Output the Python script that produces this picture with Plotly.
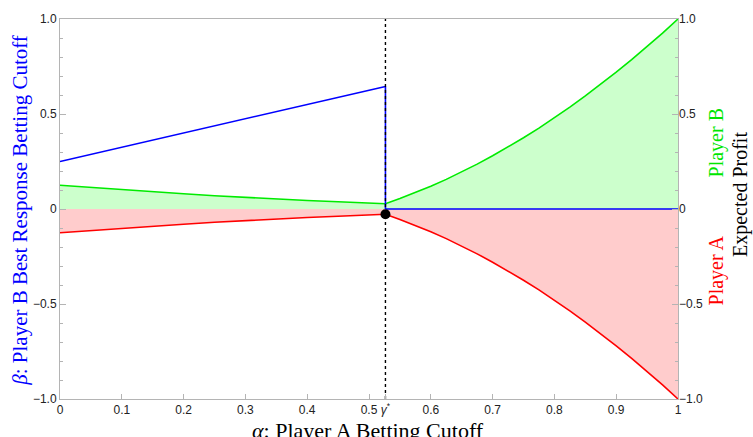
import plotly.graph_objects as go

# ---- data ----
gamma_star = 0.5266
alpha_left = [0, 0.05, 0.1, 0.15, 0.2, 0.25, 0.3, 0.35, 0.4, 0.45, 0.5, 0.5266]
profit_b_left = [0.125, 0.113, 0.101, 0.090, 0.080, 0.070, 0.061, 0.053, 0.045, 0.038, 0.031, 0.028]
profit_a_left = [-0.125, -0.113, -0.101, -0.090, -0.080, -0.070, -0.061, -0.053, -0.045, -0.038, -0.031, -0.028]
alpha_right = [0.5266, 0.55, 0.575, 0.6, 0.625, 0.65, 0.675, 0.7, 0.725, 0.75, 0.775, 0.8,
               0.825, 0.85, 0.875, 0.9, 0.925, 0.95, 0.975, 1.0]
profit_b_right = [0.028, 0.055, 0.086, 0.120, 0.156, 0.195, 0.236, 0.280, 0.326, 0.375, 0.426, 0.480,
                  0.536, 0.595, 0.656, 0.720, 0.786, 0.855, 0.926, 1.0]
profit_a_right = [-0.028, -0.055, -0.086, -0.120, -0.156, -0.195, -0.236, -0.280, -0.326, -0.375, -0.426, -0.480,
                  -0.536, -0.595, -0.656, -0.720, -0.786, -0.855, -0.926, -1.0]
beta_alpha_left = [0, 0.5266]
beta_left = [0.25, 0.645]
beta_alpha_right = [0.5266, 1.0]
beta_right = [0, 0]
eq_point = (0.5266, -0.028)

x_tickvals = [0, 0.1, 0.2, 0.3, 0.4, 0.5, gamma_star, 0.6, 0.7, 0.8, 0.9, 1.0]
x_ticktext = ["0", "0.1", "0.2", "0.3", "0.4", "0.5", "<i>γ</i><sup>*</sup>", "0.6", "0.7", "0.8", "0.9", "1"]
y_tickvals = [1.0, 0.5, 0, -0.5, -1.0]
y_ticktext = ["1.0", "0.5", "0", "−0.5", "−1.0"]
y_minor = [-0.9, -0.8, -0.7, -0.6, -0.4, -0.3, -0.2, -0.1, 0.1, 0.2, 0.3, 0.4, 0.6, 0.7, 0.8, 0.9]

GREEN = "rgb(0,235,0)"
RED = "rgb(255,0,0)"
BLUE = "rgb(0,0,255)"
GFILL = "rgb(204,255,204)"
RFILL = "rgb(255,204,204)"
FRAME = "rgb(180,180,180)"

alpha_all = alpha_left + alpha_right[1:]
b_all = profit_b_left + profit_b_right[1:]
a_all = profit_a_left + profit_a_right[1:]

fig = go.Figure()
# fills
fig.add_trace(go.Scatter(x=alpha_all, y=b_all, fill="tozeroy", fillcolor=GFILL,
                         line=dict(width=0), mode="lines", hoverinfo="skip", showlegend=False))
fig.add_trace(go.Scatter(x=alpha_all, y=a_all, fill="tozeroy", fillcolor=RFILL,
                         line=dict(width=0), mode="lines", hoverinfo="skip", showlegend=False))
# curves
fig.add_trace(go.Scatter(x=alpha_all, y=b_all, mode="lines", line=dict(color=GREEN, width=1.6), showlegend=False))
fig.add_trace(go.Scatter(x=alpha_all, y=a_all, mode="lines", line=dict(color=RED, width=1.6), showlegend=False))
# best response
fig.add_trace(go.Scatter(x=beta_alpha_left, y=beta_left, mode="lines", line=dict(color=BLUE, width=1.6), showlegend=False))
fig.add_trace(go.Scatter(x=beta_alpha_right, y=beta_right, mode="lines", line=dict(color=BLUE, width=1.6), showlegend=False))
fig.add_trace(go.Scatter(x=[gamma_star, gamma_star], y=[beta_left[-1], 0], mode="lines",
                         line=dict(color=BLUE, width=1.6), showlegend=False))
# gamma* dashed line
fig.add_trace(go.Scatter(x=[gamma_star, gamma_star], y=[-1, 1], mode="lines",
                         line=dict(color="black", width=1.4, dash="3px,3px"), showlegend=False))
# equilibrium dot
fig.add_trace(go.Scatter(x=[eq_point[0]], y=[eq_point[1]], mode="markers",
                         marker=dict(color="black", size=10), showlegend=False))
# dummy for right axis
fig.add_trace(go.Scatter(x=[0.5], y=[0], yaxis="y2", mode="markers", marker=dict(opacity=0),
                         hoverinfo="skip", showlegend=False))

tickfont = dict(family="Liberation Sans, Arial, sans-serif", size=12, color="#222")

fig.update_layout(
    width=753, height=437,
    margin=dict(l=60, r=75, t=17, b=38),
    paper_bgcolor="white", plot_bgcolor="white",
    xaxis=dict(range=[0, 1], tickvals=x_tickvals, ticktext=x_ticktext, ticks="inside", ticklen=5,
               tickcolor=FRAME, showline=True, linecolor=FRAME, linewidth=1, mirror=True,
               showgrid=False, zeroline=False, tickfont=tickfont),
    yaxis=dict(range=[-1, 1], tickvals=y_tickvals, ticktext=y_ticktext, ticks="inside", ticklen=6,
               tickcolor=FRAME, showline=True, linecolor=FRAME, linewidth=1, mirror=True,
               showgrid=False, zeroline=True, zerolinecolor=FRAME, zerolinewidth=1, tickfont=tickfont,
               minor=dict(tickvals=y_minor, ticks="inside", ticklen=3, tickcolor=FRAME)),
    yaxis2=dict(range=[-1, 1], overlaying="y", side="right", tickvals=y_tickvals, ticktext=y_ticktext,
                ticks="inside", ticklen=6, tickcolor=FRAME, showgrid=False, zeroline=False,
                showline=False, tickfont=tickfont,
                minor=dict(tickvals=y_minor, ticks="inside", ticklen=3, tickcolor=FRAME)),
)

serif = "Liberation Serif, Times New Roman, serif"
fig.add_annotation(xref="paper", yref="paper", x=0.498, y=-0.084, xanchor="center", yanchor="middle",
                   text="<i>α</i>: Player A Betting Cutoff", showarrow=False,
                   font=dict(family=serif, size=22, color="black"))
fig.add_annotation(xref="paper", yref="paper", x=-0.066, y=0.496, xanchor="center", yanchor="middle",
                   text="<i>β</i>: Player B Best Response Betting Cutoff", showarrow=False, textangle=-90,
                   font=dict(family=serif, size=21, color=BLUE))
fig.add_annotation(xref="paper", yref="paper", x=1.063, y=0.675, xanchor="center", yanchor="middle",
                   text="Player B", showarrow=False, textangle=-90,
                   font=dict(family=serif, size=20, color="rgb(0,230,0)"))
fig.add_annotation(xref="paper", yref="paper", x=1.063, y=0.338, xanchor="center", yanchor="middle",
                   text="Player A", showarrow=False, textangle=-90,
                   font=dict(family=serif, size=20, color=RED))
fig.add_annotation(xref="paper", yref="paper", x=1.102, y=0.537, xanchor="center", yanchor="middle",
                   text="Expected Profit", showarrow=False, textangle=-90,
                   font=dict(family=serif, size=20, color="black"))

fig.write_html("out.html", post_script="document.body.style.margin='0';",
               config={"displayModeBar": False})
